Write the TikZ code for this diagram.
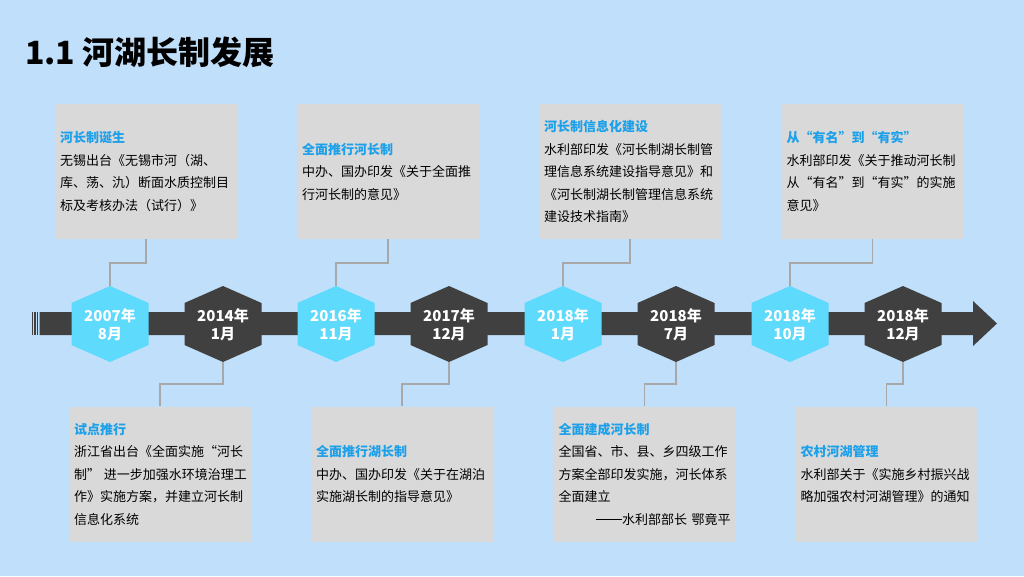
\documentclass[tikz,border=0pt]{standalone}
\usepackage{fontspec}
\setmainfont{Noto Sans CJK SC}
\definecolor{bg}{HTML}{C0DFFA}
\definecolor{boxgray}{HTML}{D9D9D9}
\definecolor{titleblue}{HTML}{1CA0EA}
\definecolor{hexcyan}{HTML}{5DDAFC}
\definecolor{hexdark}{HTML}{404040}
\definecolor{connc}{HTML}{A8A8A8}
\tikzset{
  infobox/.style={fill=boxgray, minimum width=182pt, minimum height=135pt, inner xsep=5pt, inner ysep=0pt,
    text width=172pt, align=left, font=\fontsize{13}{22.5}\selectfont, anchor=center, text=black},
  hextext/.style={text=white, align=center, font=\bfseries\fontsize{15}{18}\selectfont, inner sep=0pt},
  conn/.style={draw=connc, line width=1.5pt}
}
\newcommand{\bt}[1]{{\color{titleblue}\bfseries #1}}
\newcommand{\myoq}{\makebox[1em][r]{“}}
\newcommand{\mycq}{\makebox[1em][l]{”}}
\newcommand{\mydash}{\rule[0.32em]{2em}{0.07em}}
\begin{document}
\begin{tikzpicture}[x=1pt,y=-1pt]
\fill[bg] (0,0) rectangle (1024,576);
\useasboundingbox (0,0) rectangle (1024,576);

\node[anchor=west, inner sep=0pt, font=\bfseries\fontsize{32}{32}\selectfont] (title) at (25,52) {1.1 河湖长制发展};

% timeline arrow
\fill[hexdark] (31.7,312) rectangle (33.1,335);
\fill[hexdark] (34.3,312) rectangle (35.7,335);
\fill[hexdark] (36.9,312) rectangle (38.3,335);
\fill[hexdark] (39.5,312) -- (973,312) -- (973,301) -- (997,323.5) -- (973,346) -- (973,335) -- (39.5,335) -- cycle;

% hexagons
\foreach \cx/\col/\nm/\txt in {
  110/hexcyan/h1/{2007年\\8月},
  223/hexdark/h2/{2014年\\1月},
  336/hexcyan/h3/{2016年\\11月},
  449/hexdark/h4/{2017年\\12月},
  563/hexcyan/h5/{2018年\\1月},
  676/hexdark/h6/{2018年\\7月},
  790/hexcyan/h7/{2018年\\10月},
  903/hexdark/h8/{2018年\\12月}}{
  \fill[\col] (\cx-38.5,303) -- (\cx,286) -- (\cx+38.5,303) -- (\cx+38.5,345) -- (\cx,362) -- (\cx-38.5,345) -- cycle;
  \coordinate (\nm t) at (\cx,286);
  \coordinate (\nm b) at (\cx,362);
  \node[hextext] (\nm) at (\cx,325) {\txt};
}

% top boxes
\node[infobox] (b1) at (146,171.5) {\bt{河长制诞生}\\无锡出台《无锡市河（湖、\\库、荡、氿）断面水质控制目\\标及考核办法（试行）》};
\node[infobox] (b3) at (388,171.5) {\bt{全面推行河长制}\\中办、国办印发《关于全面推\\行河长制的意见》};
\node[infobox] (b5) at (630,171.5) {\bt{河长制信息化建设}\\水利部印发《河长制湖长制管\\理信息系统建设指导意见》和\\《河长制湖长制管理信息系统\\建设技术指南》};
\node[infobox] (b7) at (872.5,171.5) {\bt{从\myoq 有名\mycq 到\myoq 有实\mycq}\\水利部印发《关于推动河长制\\从\myoq 有名\mycq 到\myoq 有实\mycq 的实施\\意见》};

% bottom boxes
\node[infobox] (b2) at (160,474) {\bt{试点推行}\\浙江省出台《全面实施\myoq 河长\\\mbox{制\mycq\hspace{0.3em}进一步加强水环境治理工}\\作》实施方案，并建立河长制\\信息化系统};
\node[infobox] (b4) at (402,474) {\bt{全面推行湖长制}\\中办、国办印发《关于在湖泊\\实施湖长制的指导意见》};
\node[infobox] (b6) at (644.5,474) {\bt{全面建成河长制}\\全国省、市、县、乡四级工作\\方案全部印发实施，河长体系\\全面建立\\\hspace*{\fill}\mydash 水利部部长 鄂竟平};
\node[infobox] (b8) at (886.5,474) {\bt{农村河湖管理}\\水利部关于《实施乡村振兴战\\略加强农村河湖管理》的通知};

% connectors
\draw[conn] (b1.south) -- ++(0,24) -| (h1t);
\draw[conn] (b3.south) -- ++(0,24) -| (h3t);
\draw[conn] (b5.south) -- ++(0,24) -| (h5t);
\draw[conn] (b7.south) -- ++(0,24) -| (h7t);
\draw[conn] (h2b) -- ++(0,22) -| (b2.north);
\draw[conn] (h4b) -- ++(0,22) -| (b4.north);
\draw[conn] (h6b) -- ++(0,22) -| (b6.north);
\draw[conn] (h8b) -- ++(0,22) -| (b8.north);
\end{tikzpicture}
\end{document}
